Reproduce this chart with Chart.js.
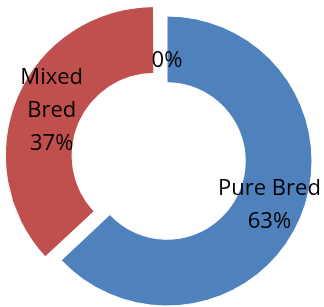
<!DOCTYPE html>
<html>
<head>
<meta charset="utf-8">
<script src="https://cdn.jsdelivr.net/npm/chart.js@4"></script>
<style>
  body { margin: 0; background: #fff; }
</style>
</head>
<body>
<canvas id="myChart" width="324" height="307"></canvas>
<script>
// datos del grafico
const categories = ["Pure Bred", ["Mixed", "Bred"], ""];
const percents = [63, 37, 0];
const sliceColors = ["#4F81BD", "#C0504D", "#9BBB59"];
const explode = [0, 56, 0]; // chart.js divide el offset entre 4

// etiquetas dentro de cada porcion
const sliceLabels = {
  id: "sliceLabels",
  afterDatasetsDraw(chart) {
    const ctx = chart.ctx;
    const meta = chart.getDatasetMeta(0);
    const ds = chart.data.datasets[0];
    ctx.save();
    ctx.font = '22px "Open Sans"';
    ctx.fillStyle = "#000";
    ctx.textAlign = "center";
    ctx.textBaseline = "middle";
    meta.data.forEach((arc, i) => {
      const p = arc.getProps(["x", "y", "startAngle", "endAngle", "innerRadius", "outerRadius"]);
      const mid = (p.startAngle + p.endAngle) / 2;
      let r = (p.innerRadius + p.outerRadius) / 2 + (arc.options.offset || 0) / 4;
      // porcion vacia: la etiqueta queda mas cerca del hueco
      if (p.endAngle - p.startAngle < 0.01) r = p.innerRadius + 22;
      const x = p.x + Math.cos(mid) * r;
      const y = p.y + Math.sin(mid) * r;
      const lines = [].concat(chart.data.labels[i]).filter((s) => s);
      lines.push(ds.data[i] + "%");
      lines.forEach((t, j) => {
        ctx.fillText(t, x, y + (j - (lines.length - 1) / 2) * 33);
      });
    });
    ctx.restore();
  },
};

const ctx = document.getElementById("myChart").getContext("2d");
const myChart = new Chart(ctx, {
  type: "doughnut",
  data: {
    labels: categories,
    datasets: [
      {
        data: percents,
        backgroundColor: sliceColors,
        borderColor: "#fff",
        borderWidth: 1,
        offset: explode,
      },
    ],
  },
  options: {
    responsive: false,
    animation: false,
    radius: 145,
    cutout: "54%",
    layout: { padding: { left: 10, right: 0, top: 15, bottom: 0 } },
    plugins: {
      legend: { display: false },
      tooltip: { enabled: false },
    },
  },
  plugins: [sliceLabels],
});
</script>
</body>
</html>
